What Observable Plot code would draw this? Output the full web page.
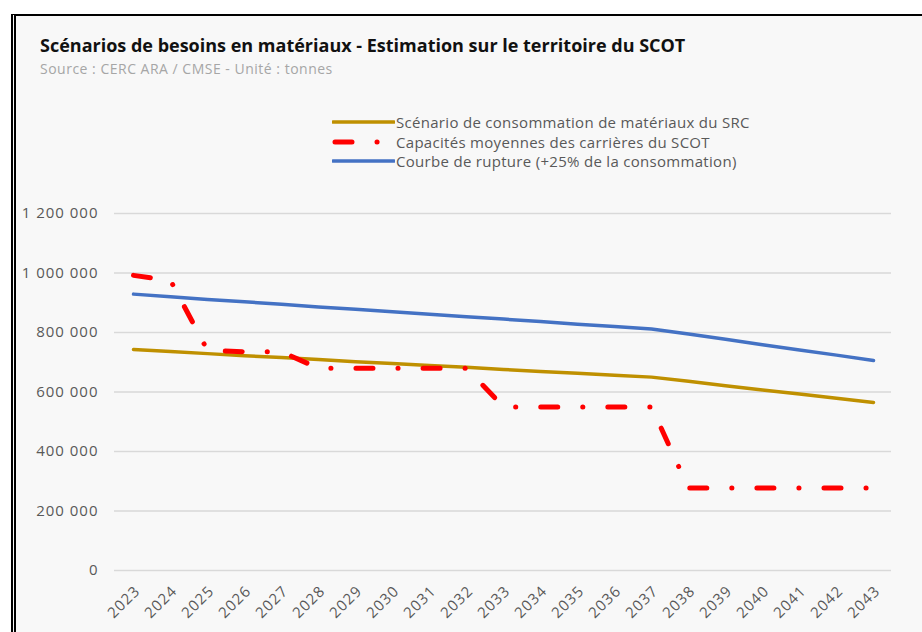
<!DOCTYPE html>
<html>
<head>
<meta charset="utf-8">
<script src="https://cdn.jsdelivr.net/npm/d3@7"></script>
<script src="https://cdn.jsdelivr.net/npm/@observablehq/plot@0.6"></script>
<style>
  html, body { margin: 0; padding: 0; background: #ffffff; }
  body { width: 922px; height: 632px; position: relative; overflow: hidden; font-family: "Open Sans", sans-serif; }
  #frame { position: absolute; left: 11px; top: 14px; right: 0; bottom: 0; background: #f8f8f8;
           border-top: 2px solid #000; border-left: 5px double #000; box-sizing: border-box; }
  #title { position: absolute; left: 40px; top: 36px; font-size: 18px; line-height: 18px; font-weight: 700; color: #111; white-space: nowrap; }
  #subtitle { position: absolute; left: 40px; top: 62px; font-size: 14px; line-height: 14px; letter-spacing: 0.5px; color: #a6a6a6; white-space: nowrap; }
  #legend { position: absolute; left: 332px; top: 112px; }
  .leg { position: absolute; left: 0; height: 20px; display: flex; align-items: center; white-space: nowrap; font-size: 15px; letter-spacing: 0.3px; color: #595959; }
  .leg svg { margin-right: 1px; }
  #chart { position: absolute; left: 0; top: 180px; }
  #chart svg text { letter-spacing: 1px; }
</style>
</head>
<body>
<div id="frame"></div>
<div id="title"></div>
<div id="subtitle"></div>
<div id="legend"></div>
<div id="chart"></div>
<script>
const titleText = "Scénarios de besoins en matériaux - Estimation sur le territoire du SCOT";
const subtitleText = "Source : CERC ARA / CMSE - Unité : tonnes";

const years = ["2023","2024","2025","2026","2027","2028","2029","2030","2031","2032","2033",
               "2034","2035","2036","2037","2038","2039","2040","2041","2042","2043"];

// Scénario de consommation de matériaux du SRC
const consommationSRC = [743000, 736000, 729000, 722000, 716000, 709000, 702000, 696000, 689000, 683000, 676000,
                         669000, 663000, 656000, 650000, 636000, 621000, 607000, 593000, 579000, 565000];
// Capacités moyennes des carrières du SCOT
const capacitesCarrieres = [992000, 975000, 740000, 735000, 735000, 680000, 680000, 680000, 680000, 680000, 550000,
                            550000, 550000, 550000, 550000, 277000, 277000, 277000, 277000, 277000, 277000];
// Courbe de rupture (+25% de la consommation)
const courbeRupture = [929000, 920000, 911000, 903000, 895000, 886000, 878000, 870000, 861000, 853000, 845000,
                       837000, 828000, 820000, 812000, 795000, 777000, 759000, 741000, 724000, 706000];

const seriesNames = ["Scénario de consommation de matériaux du SRC",
                     "Capacités moyennes des carrières du SCOT",
                     "Courbe de rupture (+25% de la consommation)"];
const seriesColors = ["#BF9000", "#FF0000", "#4472C4"];
const yTicks = [0, 200000, 400000, 600000, 800000, 1000000, 1200000];

document.getElementById("title").textContent = titleText;
document.getElementById("subtitle").textContent = subtitleText;

// Legend
const legend = document.getElementById("legend");
seriesNames.forEach((name, i) => {
  const row = document.createElement("div");
  row.className = "leg";
  row.style.top = (i * 19.5) + "px";
  let sw;
  if (i === 1) {
    sw = `<svg width="63" height="20"><line x1="3" y1="10" x2="60" y2="10" stroke="${seriesColors[i]}" stroke-width="5" stroke-linecap="round" stroke-dasharray="17,25,0.1,25"/></svg>`;
  } else {
    sw = `<svg width="63" height="20"><line x1="1" y1="10" x2="62" y2="10" stroke="${seriesColors[i]}" stroke-width="3.5" stroke-linecap="round"/></svg>`;
  }
  row.innerHTML = sw + `<span>${name}</span>`;
  legend.appendChild(row);
});

const toRows = (vals) => years.map((y, i) => ({year: y, value: vals[i]}));
const fmt = d => d3.format(",")(d).replace(/,/g, "\u00a0");

const chart = Plot.plot({
  width: 922,
  height: 452,
  marginLeft: 114,
  marginRight: 31,
  marginTop: 33,
  marginBottom: 62,
  style: {background: "transparent", fontFamily: "Open Sans", fontSize: "15px", color: "#595959", overflow: "visible"},
  x: {type: "point", domain: years, padding: 0.5},
  y: {domain: [0, 1200000]},
  marks: [
    Plot.gridY(yTicks, {stroke: "#d9d9d9", strokeOpacity: 1, strokeWidth: 1.5}),
    Plot.axisY(yTicks, {tickSize: 0, tickPadding: 16, tickFormat: fmt, label: null}),
    Plot.axisX({tickSize: 0, tickPadding: 4, tickRotate: -45, label: null, dx: 4, dy: 14}),
    Plot.line(toRows(consommationSRC), {x: "year", y: "value", stroke: seriesColors[0], strokeWidth: 3.5}),
    Plot.line(toRows(capacitesCarrieres), {x: "year", y: "value", stroke: seriesColors[1], strokeWidth: 5,
      strokeDasharray: "17,25,0.1,25", strokeLinecap: "round"}),
    Plot.line(toRows(courbeRupture), {x: "year", y: "value", stroke: seriesColors[2], strokeWidth: 3.5})
  ]
});
document.getElementById("chart").appendChild(chart);
</script>
</body>
</html>
